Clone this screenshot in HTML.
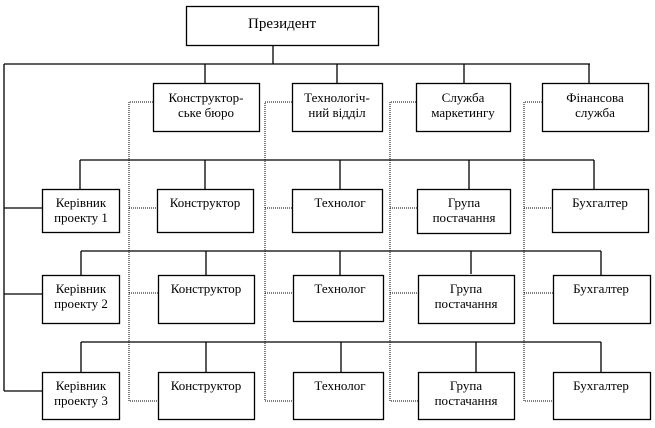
<!DOCTYPE html>
<html><head><meta charset="utf-8"><style>
html,body{margin:0;padding:0;background:#fff;}
svg{display:block;}
text{font-family:"Liberation Serif",serif;font-size:13px;fill:#000;text-anchor:middle;}
</style></head><body>
<svg width="655" height="428" viewBox="0 0 655 428" xmlns="http://www.w3.org/2000/svg">
<g fill="none" stroke="#000" stroke-width="1.3">
<rect x="186.5" y="6.5" width="192" height="39"/>
<line x1="273" y1="45" x2="273" y2="64"/>
<line x1="4" y1="64" x2="590" y2="64"/>
<line x1="205" y1="64" x2="205" y2="83"/>
<line x1="337" y1="64" x2="337" y2="83"/>
<line x1="464" y1="64" x2="464" y2="83"/>
<line x1="589" y1="64" x2="589" y2="83"/>
<rect x="153.5" y="83.5" width="106" height="48"/>
<rect x="292.5" y="83.5" width="90" height="48"/>
<rect x="416.5" y="83.5" width="94" height="48"/>
<rect x="542.5" y="83.5" width="106" height="48"/>
<line x1="4" y1="64" x2="4" y2="391"/>
<line x1="4" y1="208" x2="42" y2="208"/>
<line x1="4" y1="294" x2="42" y2="294"/>
<line x1="4" y1="391" x2="42" y2="391"/>
<!-- row1 -->
<line x1="80" y1="160" x2="594" y2="160"/>
<line x1="80" y1="160" x2="80" y2="189"/>
<line x1="205" y1="160" x2="205" y2="189"/>
<line x1="340" y1="160" x2="340" y2="189"/>
<line x1="469" y1="160" x2="469" y2="189"/>
<line x1="594" y1="160" x2="594" y2="189"/>
<rect x="42.5" y="189.5" width="77" height="43"/>
<rect x="157.5" y="189.5" width="96" height="43"/>
<rect x="292.5" y="189.5" width="90" height="43"/>
<rect x="417.5" y="189.5" width="93" height="44"/>
<rect x="552.5" y="189.5" width="96" height="43"/>
<!-- row2 -->
<line x1="81" y1="251" x2="601" y2="251"/>
<line x1="81" y1="251" x2="81" y2="275"/>
<line x1="206" y1="251" x2="206" y2="275"/>
<line x1="340" y1="251" x2="340" y2="275"/>
<line x1="471" y1="251" x2="471" y2="274"/>
<line x1="601" y1="251" x2="601" y2="275"/>
<rect x="42.5" y="275.5" width="77" height="48"/>
<rect x="158.5" y="275.5" width="96" height="48"/>
<rect x="293.5" y="275.5" width="90" height="46"/>
<rect x="418.5" y="275.5" width="96" height="48"/>
<rect x="553.5" y="275.5" width="97" height="48"/>
<!-- row3 -->
<line x1="81" y1="342" x2="601" y2="342"/>
<line x1="81" y1="342" x2="81" y2="372"/>
<line x1="206" y1="342" x2="206" y2="372"/>
<line x1="341" y1="342" x2="341" y2="372"/>
<line x1="476" y1="342" x2="476" y2="372"/>
<line x1="601" y1="342" x2="601" y2="372"/>
<rect x="42.5" y="372.5" width="77" height="47"/>
<rect x="158.5" y="372.5" width="96" height="47"/>
<rect x="293.5" y="372.5" width="90" height="47"/>
<rect x="418.5" y="372.5" width="96" height="47"/>
<rect x="553.5" y="372.5" width="97" height="47"/>
</g>
<g fill="none" stroke="#000" stroke-width="1" stroke-dasharray="1,1">
<polyline points="153,102 129,102 129,401 158,401"/>
<line x1="129" y1="208" x2="157" y2="208"/>
<line x1="129" y1="293" x2="158" y2="293"/>
<polyline points="292,102 265,102 265,401 293,401"/>
<line x1="265" y1="208" x2="292" y2="208"/>
<line x1="265" y1="293" x2="293" y2="293"/>
<polyline points="416,102 390,102 390,401 418,401"/>
<line x1="390" y1="208" x2="417" y2="208"/>
<line x1="390" y1="293" x2="418" y2="293"/>
<polyline points="542,102 524,102 524,401 553,401"/>
<line x1="524" y1="208" x2="552" y2="208"/>
<line x1="524" y1="293" x2="553" y2="293"/>
</g>
<text x="282" y="28" style="font-size:15px">Президент</text>
<text x="206" y="102">Конструктор-</text><text x="206" y="117">ське бюро</text>
<text x="337" y="102">Технологіч-</text><text x="337" y="117">ний відділ</text>
<text x="463" y="102">Служба</text><text x="463" y="117">маркетингу</text>
<text x="595" y="102">Фінансова</text><text x="595" y="117">служба</text>

<text x="81" y="207">Керівник</text><text x="81" y="222">проекту 1</text>
<text x="205" y="207">Конструктор</text>
<text x="340" y="207">Технолог</text>
<text x="464" y="207">Група</text><text x="464" y="222">постачання</text>
<text x="600" y="207">Бухгалтер</text>

<text x="81" y="293">Керівник</text><text x="81" y="308">проекту 2</text>
<text x="206" y="293">Конструктор</text>
<text x="340" y="293">Технолог</text>
<text x="466" y="293">Група</text><text x="466" y="308">постачання</text>
<text x="601" y="293">Бухгалтер</text>

<text x="81" y="390">Керівник</text><text x="81" y="405">проекту 3</text>
<text x="206" y="390">Конструктор</text>
<text x="340" y="390">Технолог</text>
<text x="466" y="390">Група</text><text x="466" y="405">постачання</text>
<text x="601" y="390">Бухгалтер</text>
</svg>
</body></html>
